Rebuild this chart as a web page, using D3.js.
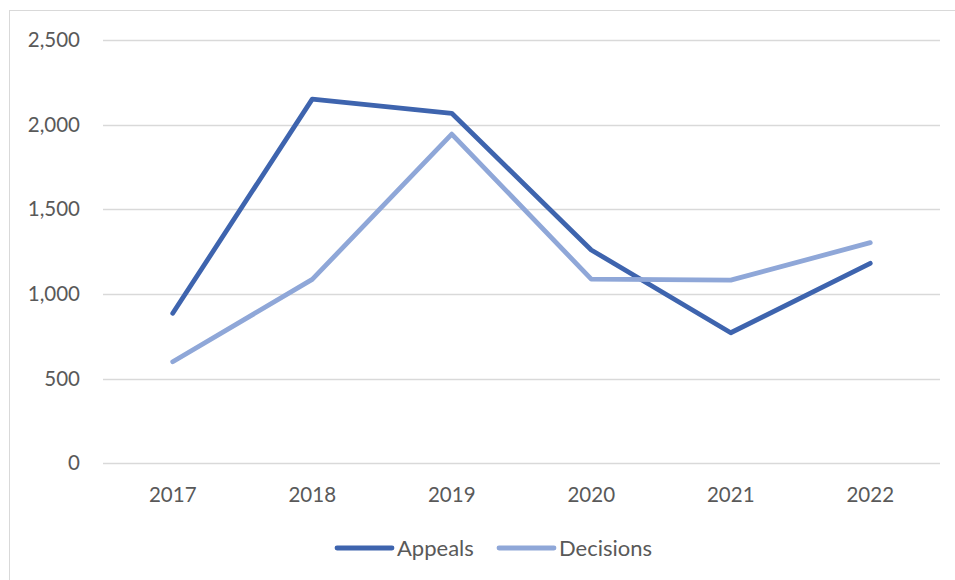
<!DOCTYPE html>
<html><head><meta charset="utf-8">
<script src="https://cdn.jsdelivr.net/npm/d3@7"></script>
<style>body{margin:0;background:#fff}svg{display:block}text{font-family:Lato,"Open Sans",sans-serif;fill:#595959}</style>
</head><body>
<script>
const years = ["2017","2018","2019","2020","2021","2022"];
const appeals = [886, 2151, 2067, 1260, 771, 1181];
const decisions = [600, 1086, 1944, 1088, 1082, 1303];
const yTicks = [0, 500, 1000, 1500, 2000, 2500];
const seriesNames = ["Appeals", "Decisions"];
const seriesColors = ["#3e64ae", "#8fa7d8"];

const W = 955, H = 580;
const svg = d3.select("body").append("svg").attr("width", W).attr("height", H);
svg.append("rect").attr("x", 9.5).attr("y", 10.5).attr("width", W).attr("height", H)
  .attr("fill", "#fff").attr("stroke", "#d9d9d9").attr("stroke-width", 1);

const x = d3.scaleBand().domain(years).range([103, 940]);
const y = d3.scaleLinear().domain([0, 2500]).range([463.3, 40]);

const grid = svg.append("g");
grid.selectAll("line").data(yTicks).join("line")
  .attr("x1", 103).attr("x2", 940)
  .attr("y1", d => Math.round(y(d)) + 0.5).attr("y2", d => Math.round(y(d)) + 0.5)
  .attr("stroke", "#d9d9d9").attr("stroke-width", 1.3);

const fmt = d3.format(",");
svg.append("g").selectAll("text").data(yTicks).join("text")
  .attr("x", 80).attr("y", d => y(d)).attr("dy", "0.35em")
  .attr("text-anchor", "end").attr("font-size", 20.5).text(d => fmt(d));

svg.append("g").selectAll("text").data(years).join("text")
  .attr("x", d => x(d) + x.bandwidth() / 2).attr("y", 495).attr("dy", "0.35em")
  .attr("text-anchor", "middle").attr("font-size", 20.5).text(d => d);

const line = d3.line().x((d, i) => x(years[i]) + x.bandwidth() / 2).y(d => y(d));
[appeals, decisions].forEach((s, k) => {
  svg.append("path").datum(s).attr("d", line).attr("fill", "none")
    .attr("stroke", seriesColors[k]).attr("stroke-width", 4.8)
    .attr("stroke-linejoin", "round").attr("stroke-linecap", "round");
});

const legX = [337, 499];
const leg = svg.append("g");
seriesNames.forEach((n, k) => {
  leg.append("line").attr("x1", legX[k]).attr("x2", legX[k] + 55)
    .attr("y1", 548).attr("y2", 548).attr("stroke", seriesColors[k])
    .attr("stroke-width", 4.8).attr("stroke-linecap", "round");
  leg.append("text").attr("x", legX[k] + 60).attr("y", 548).attr("dy", "0.35em")
    .attr("font-size", 22).text(n);
});
</script>
</body></html>
